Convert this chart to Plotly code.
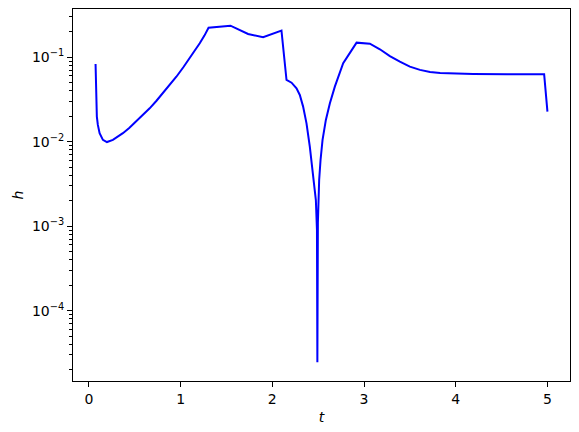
import plotly.graph_objects as go

t = [0.073, 0.087, 0.098, 0.117, 0.153, 0.197, 0.262, 0.300, 0.371, 0.440, 0.517,
     0.590, 0.663, 0.735, 0.808, 0.880, 0.954, 1.030, 1.099, 1.155, 1.209, 1.260,
     1.305, 1.544, 1.736, 1.900, 2.100, 2.155, 2.210, 2.264, 2.300, 2.336, 2.373,
     2.409, 2.445, 2.475, 2.487, 2.4915, 2.497, 2.502, 2.511, 2.526, 2.548, 2.584,
     2.628, 2.682, 2.737, 2.773, 2.919, 3.064, 3.173, 3.282, 3.391, 3.500, 3.610,
     3.720, 3.830, 4.010, 4.190, 4.560, 4.964, 5.000]
h = [0.083, 0.0198, 0.0158, 0.0126, 0.0105, 0.0099, 0.0105, 0.0111, 0.0126, 0.0145, 0.0173,
     0.0207, 0.0248, 0.0303, 0.0374, 0.0468, 0.0587, 0.0759, 0.097, 0.119, 0.146, 0.180,
     0.223, 0.236, 0.188, 0.172, 0.206, 0.0537, 0.0499, 0.0428, 0.0357, 0.0260, 0.0165,
     0.00873, 0.00423, 0.00204, 0.0009, 0.0000245, 0.0011, 0.0022, 0.00352, 0.00607, 0.0105, 0.0181,
     0.0285, 0.0448, 0.065, 0.0848, 0.1486, 0.1445, 0.124, 0.103, 0.0885, 0.0773, 0.0707,
     0.0668, 0.065, 0.0638, 0.0633, 0.0628, 0.0628, 0.0227]

x_ticks = [0, 1, 2, 3, 4, 5]
y_ticks = [1e-4, 1e-3, 1e-2, 1e-1]
y_ticktext = ["10<sup>\u22124</sup>", "10<sup>\u22123</sup>", "10<sup>\u22122</sup>", "10<sup>\u22121</sup>"]
y_minor = [m * 10.0 ** e for e in range(-5, 0) for m in range(2, 10)]

fig = go.Figure()
fig.add_trace(go.Scatter(x=t, y=h, mode="lines", line=dict(color="#0000ff", width=2)))

font = dict(family="DejaVu Sans", size=14, color="black")
fig.update_layout(
    width=579, height=432,
    margin=dict(l=73, r=9, t=9, b=51, autoexpand=False),
    paper_bgcolor="white", plot_bgcolor="white",
    showlegend=False,
    font=font,
)
fig.update_xaxes(
    range=[-0.173, 5.246], automargin=False,
    tickvals=x_ticks, ticks="outside", ticklen=5, tickwidth=1, tickcolor="black",
    showline=True, linecolor="black", linewidth=1, mirror=True,
    showgrid=False, zeroline=False,
    title=dict(text="<i>t</i>", font=font, standoff=6),
)
fig.update_yaxes(
    type="log", range=[-4.832, -0.430], automargin=False,
    tickvals=y_ticks, ticktext=y_ticktext,
    ticks="outside", ticklen=5, tickwidth=1, tickcolor="black",
    minor=dict(tickmode="array", tickvals=y_minor, ticks="outside", ticklen=3,
               tickwidth=0.8, tickcolor="black", showgrid=False),
    showline=True, linecolor="black", linewidth=1, mirror=True,
    showgrid=False, zeroline=False,
    title=dict(text="<i>h</i>", font=font, standoff=5),
)
fig.write_html("out.html", config={"displayModeBar": False},
               post_script="document.body.style.margin='0';document.body.style.overflow='hidden';")
